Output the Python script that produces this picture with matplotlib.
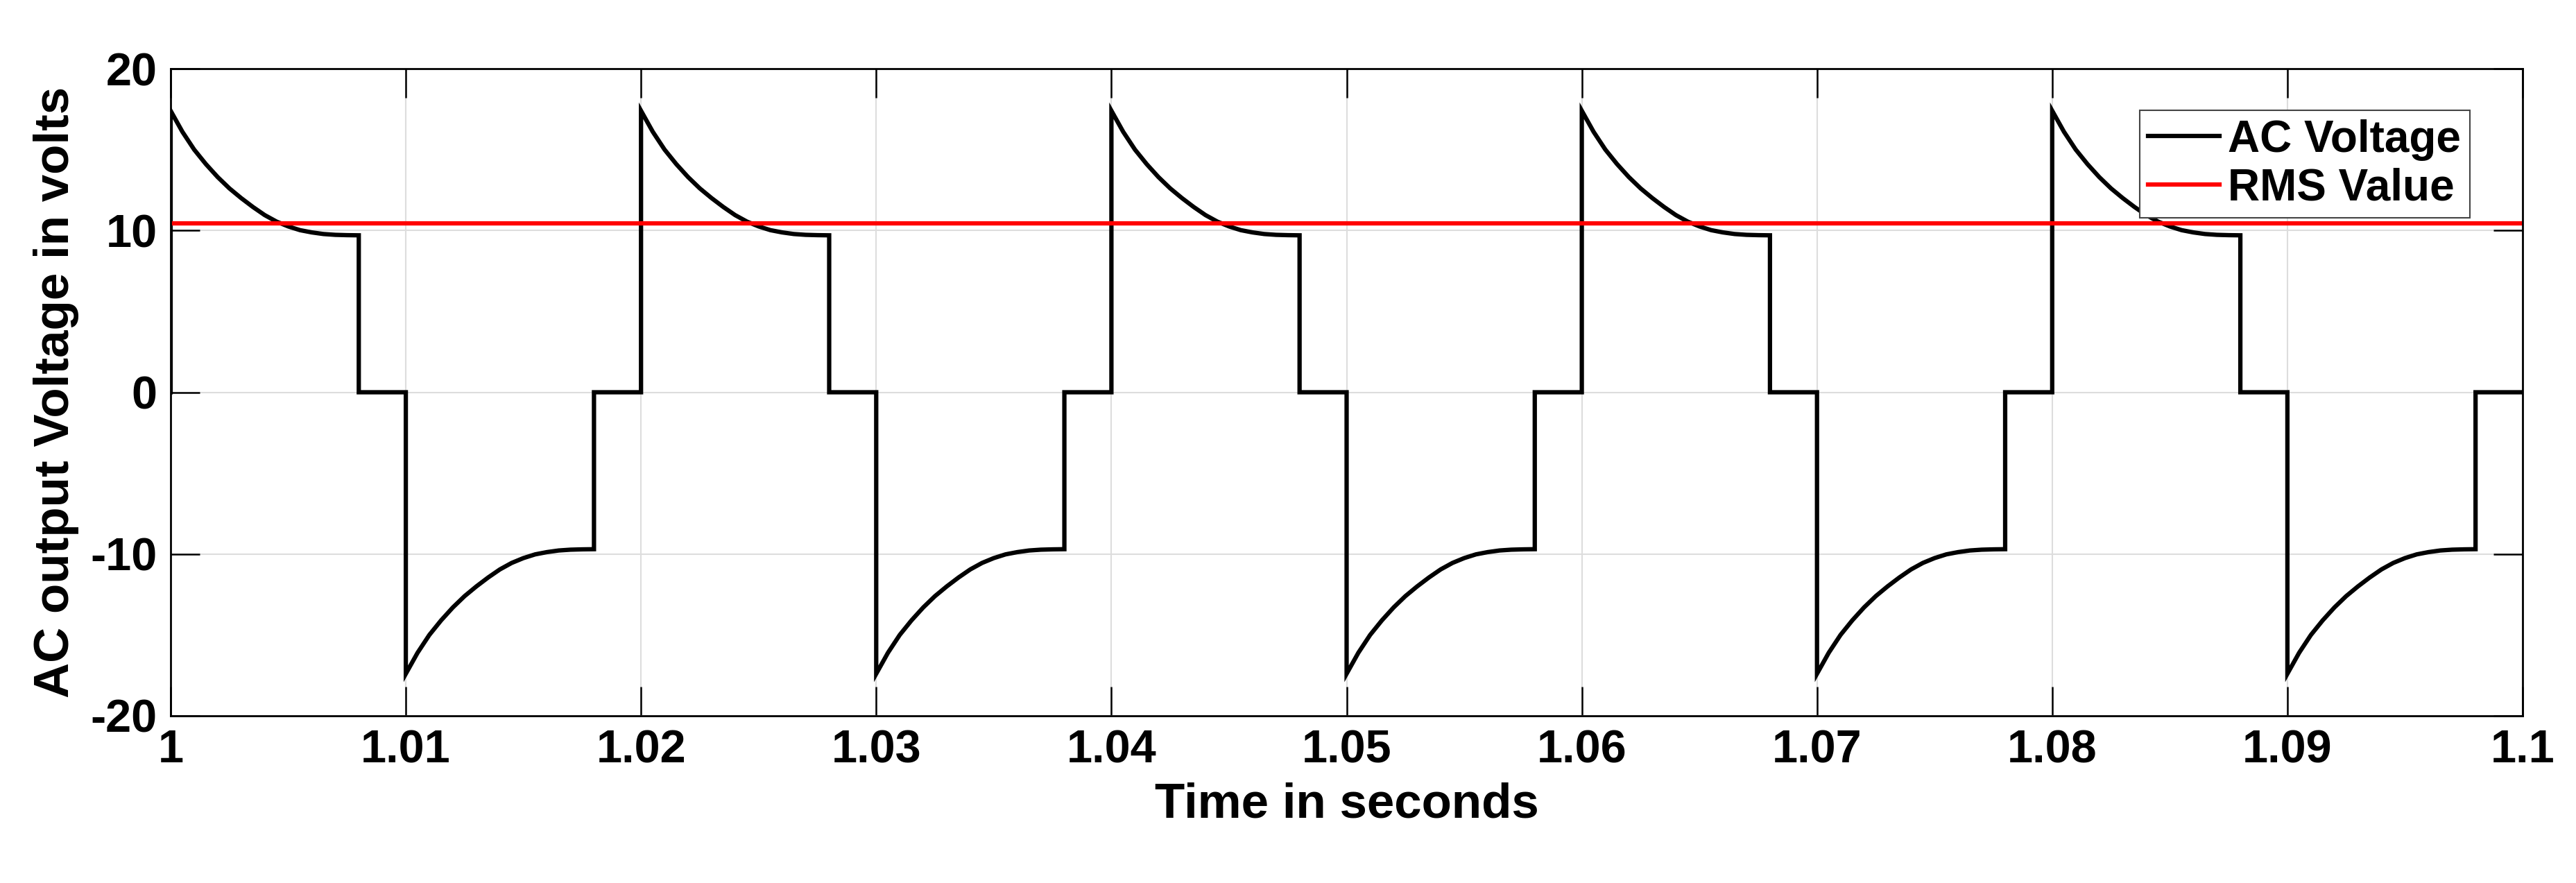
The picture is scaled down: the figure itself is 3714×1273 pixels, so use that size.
import numpy as np
import matplotlib
matplotlib.use("Agg")
import matplotlib.pyplot as plt

plt.rcParams['font.family'] = ['Liberation Sans', 'DejaVu Sans']
plt.rcParams['font.weight'] = 'bold'
plt.rcParams['axes.unicode_minus'] = False

# one positive half-cycle decay, sampled (ms offset, volts)
decay_t_ms = [0.0, 0.5, 1.0, 1.5, 2.0, 2.5, 3.0, 3.5, 4.0, 4.5, 5.0, 5.5, 6.0, 6.5, 7.0, 7.5, 8.0]
decay_v = [17.4, 16.1, 15.0, 14.1, 13.3, 12.6, 12.0, 11.45, 10.95, 10.55, 10.25, 10.02, 9.88, 9.78, 9.73, 9.71, 9.7]
period_ms = 20.0
on_ms = 8.0
start_times = [1.00, 1.01, 1.02, 1.03, 1.04, 1.05, 1.06, 1.07, 1.08, 1.09]
polarity = [1, -1, 1, -1, 1, -1, 1, -1, 1, -1]
rms_value = 10.45
xticks = [1, 1.01, 1.02, 1.03, 1.04, 1.05, 1.06, 1.07, 1.08, 1.09, 1.1]
xtick_labels = ['1', '1.01', '1.02', '1.03', '1.04', '1.05', '1.06', '1.07', '1.08', '1.09', '1.1']
yticks = [-20, -10, 0, 10, 20]
ytick_labels = ['-20', '-10', '0', '10', '20']

t, v = [], []
for st, p in zip(start_times, polarity):
    t.append(st); v.append(0.0)
    for dt, dv in zip(decay_t_ms, decay_v):
        t.append(st + dt / 1000.0); v.append(p * dv)
    t.append(st + on_ms / 1000.0); v.append(0.0)
    t.append(st + period_ms / 2000.0); v.append(0.0)

fig = plt.figure(figsize=(37.14, 12.73), dpi=100)
ax = fig.add_axes([246/3714, 1 - 1032/1273, (3637-246)/3714, (1032-99)/1273])
ax.plot(t, v, color='black', lw=4.5, label='AC Voltage', solid_joinstyle='miter')
ax.plot([1.0, 1.1], [rms_value, rms_value], color='red', lw=4.5, label='RMS Value')
ax.set_xlim(1.0, 1.1)
ax.set_ylim(-20, 20)
ax.set_xticks(xticks)
ax.set_xticklabels(xtick_labels)
ax.set_yticks(yticks)
ax.set_yticklabels(ytick_labels)
ax.grid(True, color='#dddddd', lw=1.5)
ax.tick_params(direction='in', length=30, width=1.8, labelsize=48, pad=14, top=True, right=True)
for s in ax.spines.values():
    s.set_linewidth(2)
ax.set_xlabel('Time in seconds', fontsize=51, fontweight='bold', labelpad=10)
ax.set_ylabel('AC output Voltage in volts', fontsize=51, fontweight='bold', labelpad=12)
leg = ax.legend(loc='upper right', fontsize=46, fancybox=False, framealpha=1,
                edgecolor='#444444', handlelength=1.6, borderpad=0.2, labelspacing=0.15,
                handletextpad=0.2, bbox_to_anchor=(0.987, 0.97))
leg.get_frame().set_linewidth(1.5)
fig.savefig('out.png', dpi=100)
